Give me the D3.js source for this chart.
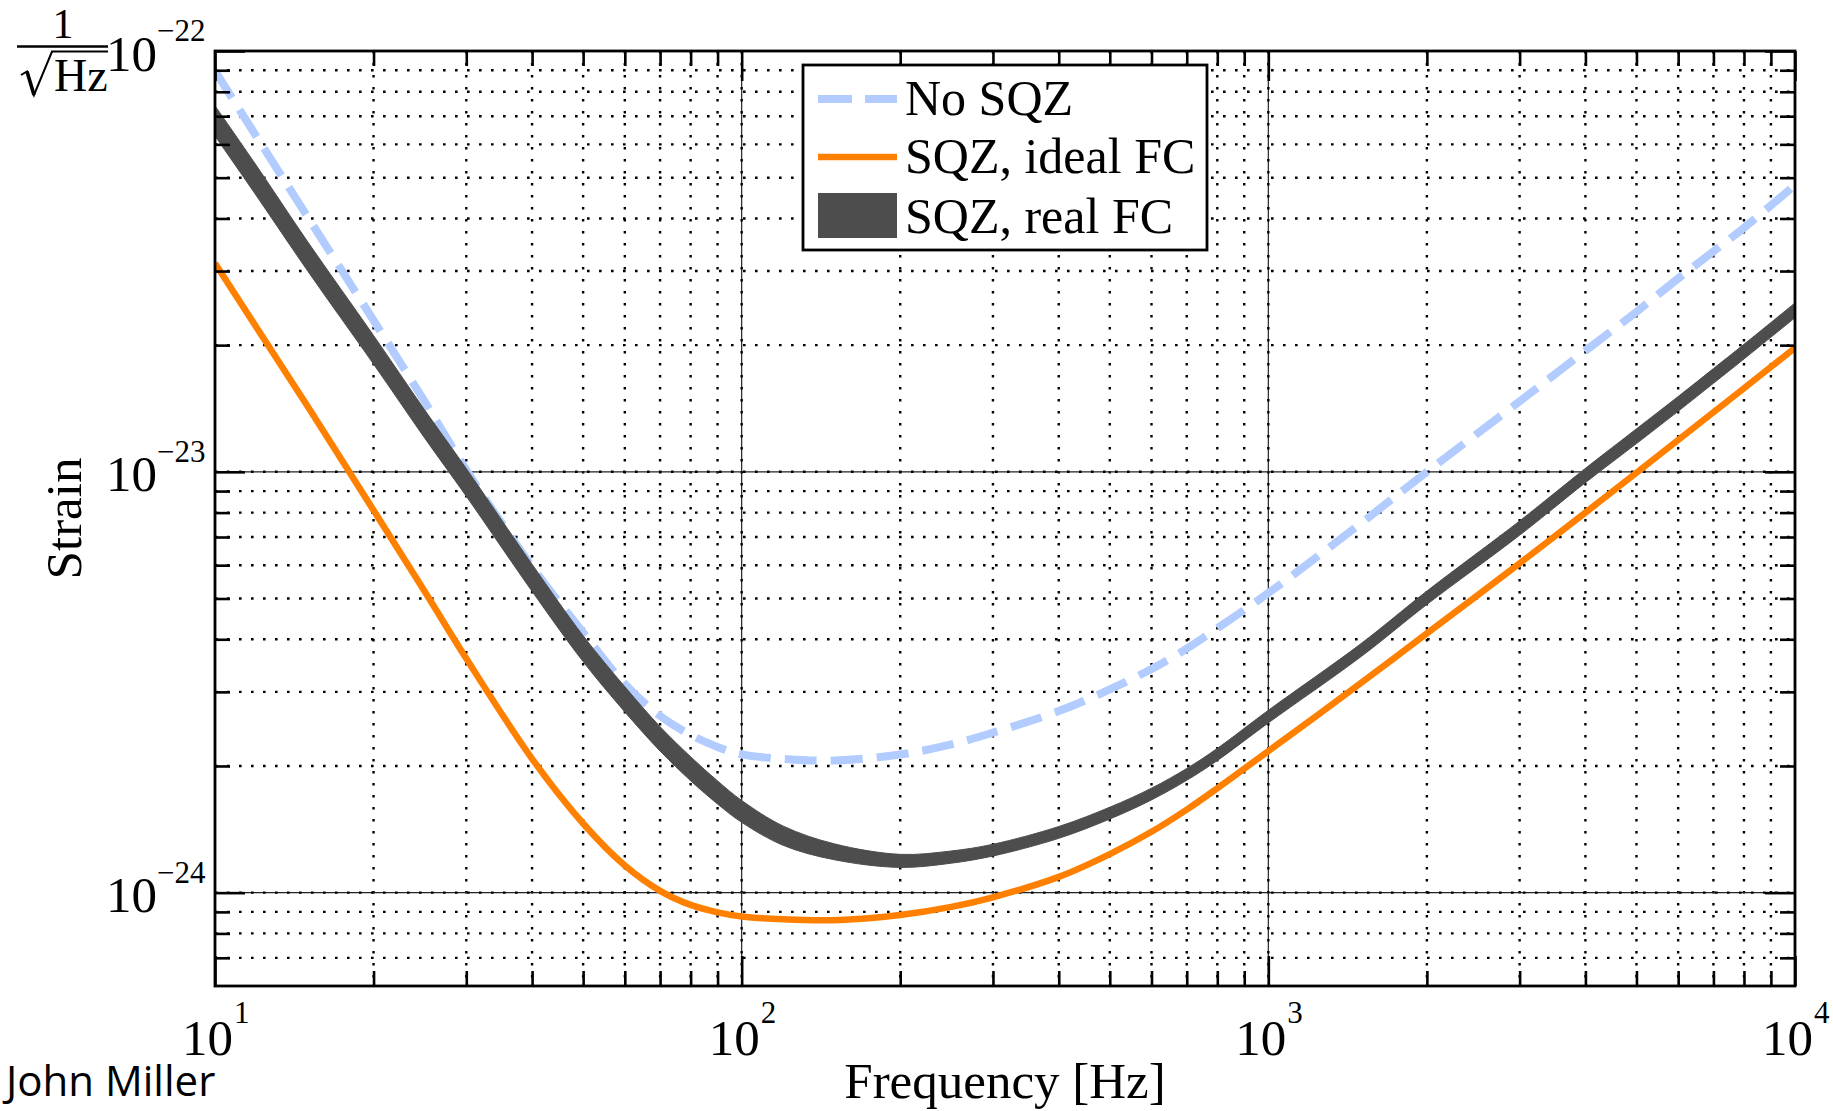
<!DOCTYPE html>
<html>
<head>
<meta charset="utf-8">
<script src="https://cdn.jsdelivr.net/npm/d3@7"></script>
<style>
  body { margin: 0; background: #fff; }
  svg { display: block; }
  text { font-family: "Liberation Serif", "Times New Roman", serif; fill: #000; }
</style>
</head>
<body>
<svg id="chart" width="1833" height="1111"></svg>
<script>
// Strain sensitivity curves (1/sqrt(Hz)) versus frequency (Hz)
const freqHz = [10, 12, 15, 20, 25, 30, 40, 50, 60, 70, 80, 90, 100, 120, 150, 200, 250, 300,
  400, 500, 600, 700, 800, 1000, 1500, 2000, 3000, 4000, 5000, 6000, 7000, 8000, 10000];

const noSqz = [8.97e-23, 6.25e-23, 4.03e-23, 2.29e-23, 1.47e-23, 1.01e-23, 5.95e-24, 4.15e-24,
  3.13e-24, 2.63e-24, 2.37e-24, 2.22e-24, 2.13e-24, 2.08e-24, 2.06e-24, 2.13e-24, 2.25e-24,
  2.40e-24, 2.70e-24, 3.04e-24, 3.40e-24, 3.80e-24, 4.25e-24, 5.15e-24, 7.55e-24, 1.0e-23,
  1.47e-23, 1.94e-23, 2.40e-23, 2.88e-23, 3.34e-23, 3.80e-23, 4.80e-23];

const sqzIdealFc = [3.13e-23, 2.2e-23, 1.43e-23, 8.1e-24, 5.2e-24, 3.6e-24, 2.08e-24, 1.46e-24,
  1.16e-24, 1.01e-24, 9.35e-25, 8.98e-25, 8.78e-25, 8.64e-25, 8.6e-25, 8.85e-25, 9.25e-25, 9.75e-25,
  1.09e-24, 1.235e-24, 1.395e-24, 1.575e-24, 1.77e-24, 2.17e-24, 3.15e-24, 4.13e-24, 6.06e-24,
  8.0e-24, 9.95e-24, 1.19e-23, 1.385e-23, 1.58e-23, 1.97e-23];

// Real filter cavity: shaded range between lower and upper bound
const sqzRealFcHigh = [7.41e-23, 5.33e-23, 3.52e-23, 2.109e-23, 1.404e-23, 1.0185e-23, 6.03e-24,
  4.08e-24, 3.086e-24, 2.480e-24, 2.104e-24, 1.843e-24, 1.656e-24, 1.439e-24, 1.306e-24, 1.233e-24,
  1.256e-24, 1.303e-24, 1.436e-24, 1.596e-24, 1.771e-24, 1.973e-24, 2.202e-24, 2.712e-24,
  3.907e-24, 5.208e-24, 7.643e-24, 1.0191e-23, 1.265e-23, 1.510e-23, 1.759e-23, 2.009e-23, 2.519e-23];

const sqzRealFcLow = [6.28e-23, 4.52e-23, 3.00e-23, 1.803e-23, 1.204e-23, 8.75e-24, 5.20e-24,
  3.54e-24, 2.688e-24, 2.170e-24, 1.845e-24, 1.624e-24, 1.469e-24, 1.295e-24, 1.197e-24, 1.148e-24,
  1.175e-24, 1.222e-24, 1.346e-24, 1.496e-24, 1.661e-24, 1.849e-24, 2.060e-24, 2.531e-24,
  3.638e-24, 4.839e-24, 7.068e-24, 9.424e-24, 1.167e-23, 1.393e-23, 1.623e-23, 1.854e-23, 2.324e-23];

const xTickExponents = [1, 2, 3, 4];
const yTickExponents = [-24, -23, -22];
const legendLabels = ["No SQZ", "SQZ, ideal FC", "SQZ, real FC"];

const COLORS = { noSqz: "#b3ccff", ideal: "#ff8000", real: "#4d4d4d" };

const svg = d3.select("#chart");
const plot = { left: 215, right: 1795, top: 51, bottom: 986 };
const W = plot.right - plot.left, H = plot.bottom - plot.top;

const x = d3.scaleLog().domain([10, 1e4]).range([plot.left, plot.right]);
const y = d3.scaleLog().domain([6e-25, 1e-22]).range([plot.bottom, plot.top]);

const xMajor = xTickExponents.map(e => Math.pow(10, e));
const yMajor = yTickExponents.map(e => Math.pow(10, e));
const xMinor = [1, 2, 3].flatMap(e => d3.range(2, 10).map(m => m * Math.pow(10, e)));
const yMinor = [-25, -24, -23].flatMap(e => d3.range(2, 10).map(m => m * Math.pow(10, e)))
  .filter(v => v > 6.5e-25);

// ---- grid ----
const grid = svg.append("g").attr("class", "grid");
const dots = "2.6,9.4";
function vLines(values, stroke, width, dash) {
  grid.append("g").selectAll("line").data(values).join("line")
    .attr("x1", d => x(d)).attr("x2", d => x(d))
    .attr("y1", plot.top).attr("y2", plot.bottom)
    .attr("stroke", stroke).attr("stroke-width", width).attr("stroke-dasharray", dash);
}
function hLines(values, stroke, width, dash) {
  grid.append("g").selectAll("line").data(values).join("line")
    .attr("y1", d => y(d)).attr("y2", d => y(d))
    .attr("x1", plot.left).attr("x2", plot.right)
    .attr("stroke", stroke).attr("stroke-width", width).attr("stroke-dasharray", dash);
}
vLines(xMinor, "#000", 2.4, dots);
hLines(yMinor, "#000", 2.4, dots);
// decade lines: thin solid plus dots
vLines(xMajor.slice(1, -1), "#222", 1.2, null);
vLines(xMajor.slice(1, -1), "#000", 2.4, dots);
hLines(yMajor.slice(0, -1), "#222", 1.2, null);
hLines(yMajor.slice(0, -1), "#000", 2.4, dots);

// ---- curves ----
svg.append("clipPath").attr("id", "plot-clip")
  .append("rect").attr("x", plot.left).attr("y", plot.top).attr("width", W).attr("height", H);
const curves = svg.append("g").attr("clip-path", "url(#plot-clip)");

const rows = freqHz.map((f, i) => ({
  f, noSqz: noSqz[i], ideal: sqzIdealFc[i], lo: sqzRealFcLow[i], hi: sqzRealFcHigh[i]
}));

const smooth = d3.curveCatmullRom.alpha(0.5);
const lineOf = key => d3.line().x(d => x(d.f)).y(d => y(d[key])).curve(smooth);

curves.append("path").datum(rows)
  .attr("d", lineOf("noSqz"))
  .attr("fill", "none").attr("stroke", COLORS.noSqz).attr("stroke-width", 8)
  .attr("stroke-dasharray", "32,14");

curves.append("path").datum(rows)
  .attr("d", lineOf("ideal"))
  .attr("fill", "none").attr("stroke", COLORS.ideal).attr("stroke-width", 6.5);

curves.append("path").datum(rows)
  .attr("d", d3.area().x(d => x(d.f)).y0(d => y(d.lo)).y1(d => y(d.hi)).curve(smooth))
  .attr("fill", COLORS.real).attr("stroke", COLORS.real).attr("stroke-width", 1);

// ---- axes: inward ticks on all four sides ----
const axes = svg.append("g").attr("class", "axes");
function tickSet(axisGen, transform, values, len) {
  const g = axes.append("g").attr("transform", transform)
    .call(axisGen.tickValues(values).tickSize(-len).tickFormat(""));
  g.select(".domain").remove();
  g.selectAll(".tick line").attr("stroke", "#000").attr("stroke-width", 2.6);
}
tickSet(d3.axisBottom(x), `translate(0,${plot.bottom})`, xMinor, 15);
tickSet(d3.axisBottom(x), `translate(0,${plot.bottom})`, xMajor, 30);
tickSet(d3.axisTop(x), `translate(0,${plot.top})`, xMinor, 15);
tickSet(d3.axisTop(x), `translate(0,${plot.top})`, xMajor, 30);
tickSet(d3.axisLeft(y), `translate(${plot.left},0)`, yMinor, 15);
tickSet(d3.axisLeft(y), `translate(${plot.left},0)`, yMajor, 30);
tickSet(d3.axisRight(y), `translate(${plot.right},0)`, yMinor, 15);
tickSet(d3.axisRight(y), `translate(${plot.right},0)`, yMajor, 30);

axes.append("rect")
  .attr("x", plot.left).attr("y", plot.top).attr("width", W).attr("height", H)
  .attr("fill", "none").attr("stroke", "#000").attr("stroke-width", 2.8);

// ---- tick labels (powers of ten) ----
const labels = svg.append("g");
const minus = "\u2212";
xTickExponents.forEach(e => {
  const px = x(Math.pow(10, e));
  labels.append("text").attr("x", px + 18).attr("y", 1055)
    .attr("text-anchor", "end").attr("font-size", 51).text("10");
  labels.append("text").attr("x", px + 19).attr("y", 1023)
    .attr("font-size", 31).text(String(e));
});
yTickExponents.forEach(e => {
  const py = y(Math.pow(10, e));
  labels.append("text").attr("x", 157).attr("y", py + 19.5)
    .attr("text-anchor", "end").attr("font-size", 51).text("10");
  labels.append("text").attr("x", 157).attr("y", py - 10)
    .attr("font-size", 31).text(minus + String(-e));
});

// axis titles
labels.append("text").attr("x", (plot.left + plot.right) / 2).attr("y", 1098)
  .attr("text-anchor", "middle").attr("font-size", 51).text("Frequency [Hz]");
labels.append("text")
  .attr("transform", `translate(81,${(plot.top + plot.bottom) / 2}) rotate(-90)`)
  .attr("text-anchor", "middle").attr("font-size", 51).text("Strain");

// unit: 1 / sqrt(Hz)
const unit = svg.append("g");
unit.append("text").attr("x", 63).attr("y", 38).attr("text-anchor", "middle")
  .attr("font-size", 42).text("1");
unit.append("line").attr("x1", 17).attr("x2", 108).attr("y1", 46.5).attr("y2", 46.5)
  .attr("stroke", "#000").attr("stroke-width", 2.5);
unit.append("path").attr("d", "M21,75 L27,71.5 L34,95 L52,51.5 L108,51.5")
  .attr("fill", "none").attr("stroke", "#000").attr("stroke-width", 2)
  .attr("stroke-linejoin", "miter");
unit.append("path").attr("d", "M27,71.5 L34,95")
  .attr("fill", "none").attr("stroke", "#000").attr("stroke-width", 3.6);
unit.append("text").attr("x", 54).attr("y", 91).attr("font-size", 46).text("Hz");

// ---- legend ----
const legend = svg.append("g");
legend.append("rect").attr("x", 803).attr("y", 65).attr("width", 404).attr("height", 185)
  .attr("fill", "#fff").attr("stroke", "#000").attr("stroke-width", 2.8);
const rowY = [99, 157, 215];
legend.append("line").attr("x1", 818).attr("x2", 897).attr("y1", rowY[0]).attr("y2", rowY[0])
  .attr("stroke", COLORS.noSqz).attr("stroke-width", 8).attr("stroke-dasharray", "34,13");
legend.append("line").attr("x1", 818).attr("x2", 897).attr("y1", rowY[1]).attr("y2", rowY[1])
  .attr("stroke", COLORS.ideal).attr("stroke-width", 6.5);
legend.append("rect").attr("x", 818).attr("y", 193).attr("width", 79).attr("height", 45)
  .attr("fill", COLORS.real);
legendLabels.forEach((t, i) => {
  legend.append("text").attr("x", 905).attr("y", [115, 173, 233][i])
    .attr("font-size", 50).text(t);
});

// author credit
svg.append("text").attr("x", 6).attr("y", 1096)
  .style("font-family", "'Open Sans', 'Noto Sans', sans-serif")
  .attr("font-size", 42).text("John Miller");
</script>
</body>
</html>
